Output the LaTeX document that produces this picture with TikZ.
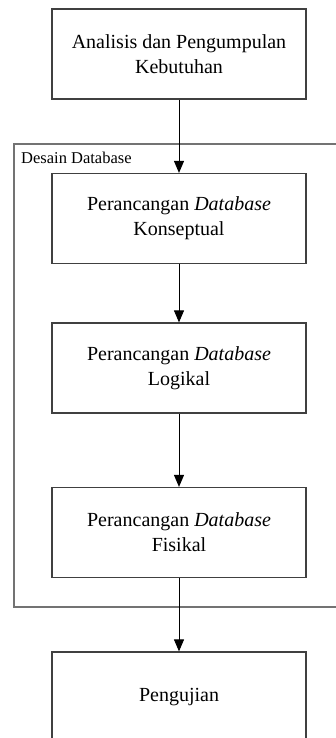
\documentclass[tikz,border=0pt]{standalone}
\usepackage{fontspec}
\setmainfont{Liberation Serif}
\usetikzlibrary{arrows.meta}
\begin{document}
\begin{tikzpicture}[x=1pt, y=-1pt, >={Triangle[length=12pt, width=10pt]},
  stage/.style={draw=black!75, line width=1.2pt, align=center, minimum width=254pt, minimum height=90pt, font=\fontsize{20}{25}\selectfont},
  flow/.style={->, line width=1pt, black}]
\useasboundingbox (0,0) rectangle (335,738);
\node[draw=black!55, line width=1.5pt, minimum width=400pt, minimum height=463pt] (desain) at (214,375.5) {};
\node[anchor=north west, inner sep=0pt, font=\fontsize{16.5}{19}\selectfont] (label) at (21,152) {Desain Database};
\node[stage] (analisis) at (179,54) {Analisis dan Pengumpulan\\Kebutuhan};
\node[stage] (konseptual) at (179,218.5) {Perancangan \textit{Database}\\Konseptual};
\node[stage] (logikal) at (179,368) {Perancangan \textit{Database}\\Logikal};
\node[stage] (fisikal) at (179,532.5) {Perancangan \textit{Database}\\Fisikal};
\node[stage] (pengujian) at (179,697) {Pengujian};
\draw[flow] (analisis) -- (konseptual);
\draw[flow] (konseptual) -- (logikal);
\draw[flow] (logikal) -- (fisikal);
\draw[flow] (fisikal) -- (pengujian);
\end{tikzpicture}
\end{document}
